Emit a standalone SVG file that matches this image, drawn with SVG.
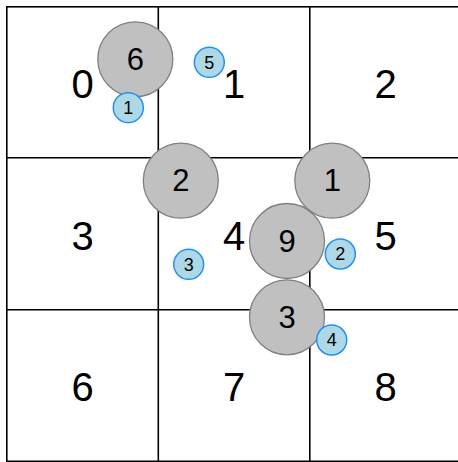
<svg xmlns="http://www.w3.org/2000/svg" width="458" height="462" viewBox="0 0 458 462">
<style>
.grid{fill:none;stroke:#000;stroke-width:1.6}
.cell{font-family:"Liberation Sans",Arial,sans-serif;font-size:40px;fill:#000;text-anchor:middle;dominant-baseline:central}
.big circle{fill:#c0c0c0;stroke:#808080;stroke-width:1.3}
.big text{font-family:"Liberation Sans",Arial,sans-serif;font-size:31px;fill:#000;text-anchor:middle;dominant-baseline:central}
.small circle{fill:#add8e6;stroke:#1e90ff;stroke-width:1.5}
.small text{font-family:"Liberation Sans",Arial,sans-serif;font-size:18px;fill:#000;text-anchor:middle;dominant-baseline:central}
</style>
<rect width="458" height="462" fill="#fff"/>
<g id="grid">
<rect class="grid" x="6.8" y="6.8" width="455" height="454.5"/>
<line class="grid" x1="158.3" y1="6.8" x2="158.3" y2="461.3"/>
<line class="grid" x1="309.8" y1="6.8" x2="309.8" y2="461.3"/>
<line class="grid" x1="6.8" y1="157.8" x2="461.8" y2="157.8"/>
<line class="grid" x1="6.8" y1="309.8" x2="461.8" y2="309.8"/>
</g>
<g id="cells">
<text class="cell" x="82.5" y="84">0</text>
<text class="cell" x="234" y="84">1</text>
<text class="cell" x="385.5" y="84">2</text>
<text class="cell" x="82.5" y="235.5">3</text>
<text class="cell" x="234" y="235.5">4</text>
<text class="cell" x="385.5" y="235.5">5</text>
<text class="cell" x="82.5" y="387">6</text>
<text class="cell" x="234" y="387">7</text>
<text class="cell" x="385.5" y="387">8</text>
</g>
<g id="connectors"></g>
<g id="big6" class="big"><circle cx="135.3" cy="59.3" r="37.5"/><text x="135.3" y="59">6</text></g>
<g id="big2" class="big"><circle cx="180.8" cy="180.7" r="37.5"/><text x="180.8" y="180.5">2</text></g>
<g id="big1" class="big"><circle cx="332.3" cy="180.7" r="37.5"/><text x="332.3" y="180.5">1</text></g>
<g id="big3" class="big"><circle cx="287" cy="317.3" r="37.5"/><text x="287" y="317">3</text></g>
<g id="big9" class="big"><circle cx="287" cy="241" r="37.5"/><text x="287" y="241">9</text></g>
<g id="small5" class="small"><circle cx="209.3" cy="62.3" r="15"/><text x="209.3" y="62.5">5</text></g>
<g id="small1" class="small"><circle cx="128.3" cy="107.7" r="15"/><text x="128.3" y="108">1</text></g>
<g id="small3" class="small"><circle cx="188.7" cy="264.3" r="15"/><text x="188.7" y="264.5">3</text></g>
<g id="small2" class="small"><circle cx="340.3" cy="254" r="15"/><text x="340.3" y="254">2</text></g>
<g id="small4" class="small"><circle cx="331.7" cy="340" r="15"/><text x="331.7" y="340">4</text></g>
</svg>
